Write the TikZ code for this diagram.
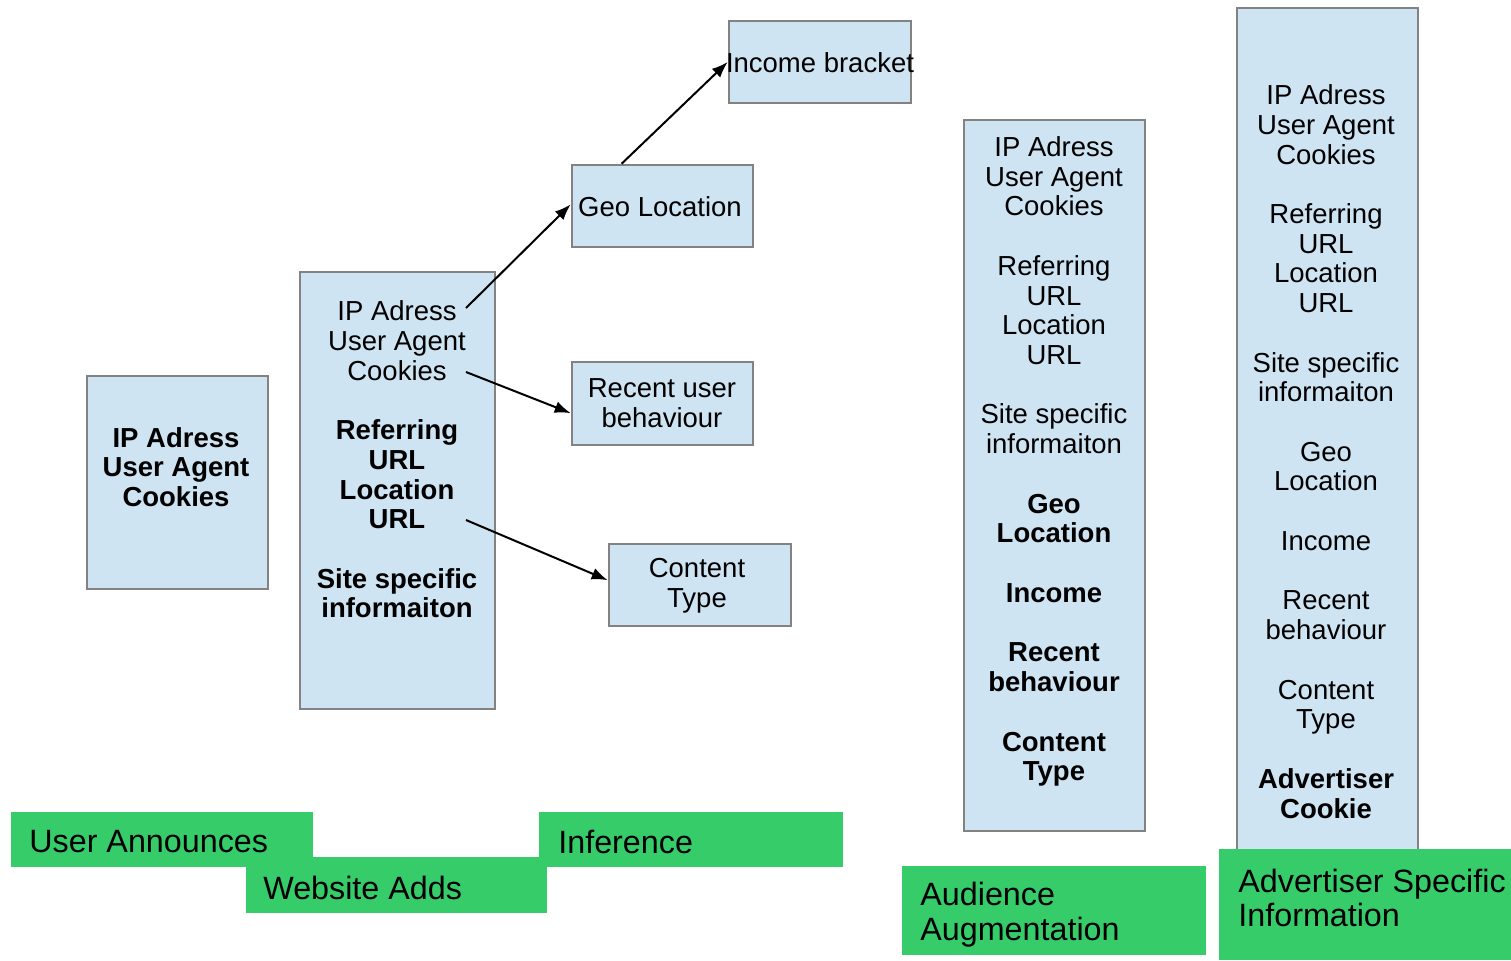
\documentclass[tikz,border=0pt]{standalone}
\usepackage{fontspec}
\setmainfont{Liberation Sans}
\usetikzlibrary{arrows.meta}
\definecolor{boxfill}{RGB}{207,228,242}
\definecolor{boxline}{RGB}{130,130,130}
\definecolor{tagfill}{RGB}{55,204,106}

\begin{document}
\begin{tikzpicture}[x=0.5bp,y=-0.5bp,
  card/.style={draw=boxline, fill=boxfill, line width=1.3bp, inner sep=0pt},
  tag/.style={fill=tagfill, inner sep=0pt, anchor=north west},
  lbl/.style={inner sep=0pt, align=center, font=\fontsize{13.8}{14.9}\selectfont},
  taglbl/.style={inner sep=0pt, align=left, anchor=west, font=\fontsize{16.2}{17.5}\selectfont},
  link/.style={line width=1bp, -{Latex[length=8bp,width=6bp]}}]

\fill[white] (0,0) rectangle (1511,960);
\useasboundingbox (0,0) rectangle (1511,960);

% stage 1: what the user announces
\node[card, minimum width=90.5bp, minimum height=106.5bp] (user) at (177.5,482.5) {};
\node[lbl, font=\fontsize{13.8}{14.9}\selectfont\bfseries] (usertxt) at (176,467)
  {IP Adress\\User Agent\\Cookies};

% stage 2: what the website adds
\node[card, minimum width=97.5bp, minimum height=218.5bp] (site) at (397.5,490.5) {};
\node[lbl] (sitetxt) at (397,459.5)
  {IP Adress\\User Agent\\Cookies\\[14.9bp]
   \textbf{Referring}\\\textbf{URL}\\\textbf{Location}\\\textbf{URL}\\[14.9bp]
   \textbf{Site specific}\\\textbf{informaiton}};

% stage 3: inferred attributes
\node[card, minimum width=90.5bp, minimum height=41bp] (geo) at (662.5,206) {};
\node[lbl] (geotxt) at (660,207) {Geo Location};
\node[card, minimum width=91bp, minimum height=41bp] (income) at (820,62) {};
\node[lbl] (incometxt) at (820,63) {Income bracket};
\node[card, minimum width=90.5bp, minimum height=41.5bp] (recent) at (662.5,403.5) {};
\node[lbl] (recenttxt) at (662,403) {Recent user\\behaviour};
\node[card, minimum width=91bp, minimum height=41bp] (content) at (700,585) {};
\node[lbl] (contenttxt) at (697,585.5) {Content\\Type};

% inference arrows
\coordinate (fromip) at (466,308);
\coordinate (fromck) at (466,372);
\coordinate (fromurl) at (466,520);
\draw[link] (fromip) -- (geo.179);
\draw[link] (geo.134) -- (income.west);
\draw[link] (fromck) -- (recent.186.6);
\draw[link] (fromurl) -- (content.177);

% stage 4: audience augmentation
\node[card, minimum width=90.5bp, minimum height=355.5bp] (aud) at (1054.5,475.5) {};
\node[lbl] (audtxt) at (1054,461.5)
  {IP Adress\\User Agent\\Cookies\\[14.9bp]
   Referring\\URL\\Location\\URL\\[14.9bp]
   Site specific\\informaiton\\[14.9bp]
   \textbf{Geo}\\\textbf{Location}\\[14.9bp]
   \textbf{Income}\\[14.9bp]
   \textbf{Recent}\\\textbf{behaviour}\\[14.9bp]
   \textbf{Content}\\\textbf{Type}};

% stage 5: advertiser specific information
\node[card, minimum width=90.5bp, minimum height=423.5bp] (adv) at (1327.5,431.5) {};
\node[lbl] (advtxt) at (1326,451.5)
  {IP Adress\\User Agent\\Cookies\\[14.9bp]
   Referring\\URL\\Location\\URL\\[14.9bp]
   Site specific\\informaiton\\[14.9bp]
   Geo\\Location\\[14.9bp]
   Income\\[14.9bp]
   Recent\\behaviour\\[14.9bp]
   Content\\Type\\[14.9bp]
   \textbf{Advertiser}\\\textbf{Cookie}};

% stage captions
\node[tag, minimum width=151bp, minimum height=27.5bp] (capuser) at (11,812) {};
\node[tag, minimum width=150.5bp, minimum height=28bp] (capsite) at (246,857) {};
\node[tag, minimum width=152bp, minimum height=27.5bp] (capinf) at (539,812) {};
\node[tag, minimum width=152bp, minimum height=44.5bp] (capaud) at (902,866) {};
\node[tag, minimum width=146bp, minimum height=55.5bp] (capadv) at (1219,849) {};

\node[taglbl] (capusertxt) at (29,842) {User Announces};
\node[taglbl] (capsitetxt) at (263,888) {Website Adds};
\node[taglbl] (capinftxt) at (558,842) {Inference};
\node[taglbl] (capaudtxt) at (920,915) {Audience\\Augmentation};
\node[taglbl] (capadvtxt) at (1238,898) {Advertiser Specific\\Information};
\end{tikzpicture}
\end{document}
